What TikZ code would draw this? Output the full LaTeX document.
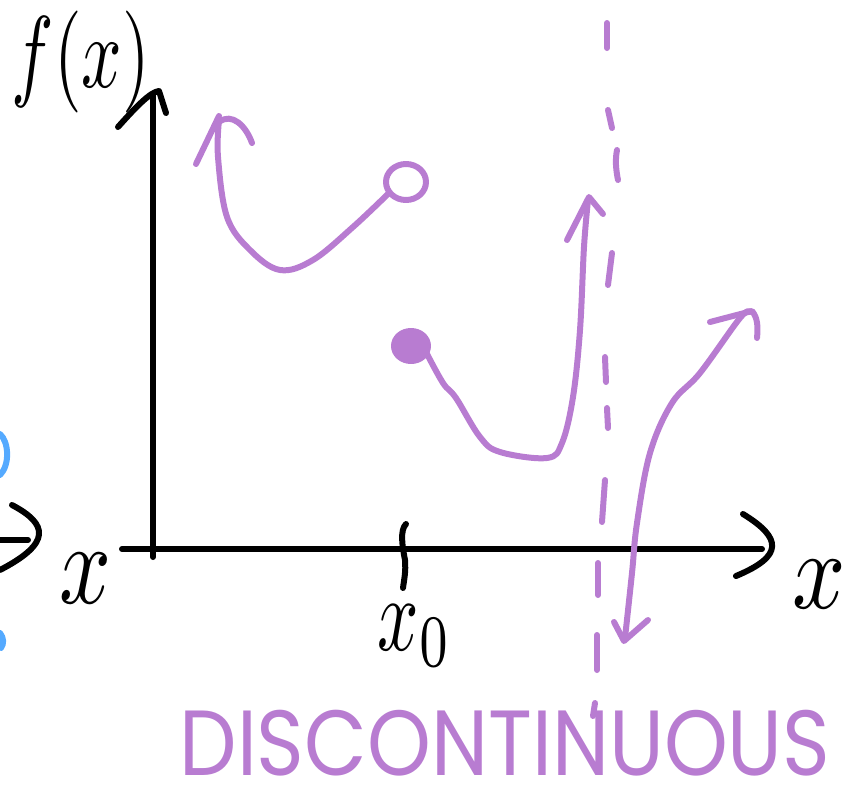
\documentclass[tikz,border=0pt]{standalone}
\usepackage{fontspec}
\newfontfamily\handfont{Poppins}
\definecolor{pen}{RGB}{184,124,209}
\definecolor{bluepen}{RGB}{85,170,255}
\tikzset{
  ink/.style={line width=4.5pt, line cap=round, line join=round},
  blackink/.style={ink, black},
  purpleink/.style={ink, pen},
  blueink/.style={ink, bluepen},
  label/.style={inner sep=0pt, outer sep=0pt},
}
\begin{document}
\begin{tikzpicture}[x=0.75pt,y=-0.75pt]
\useasboundingbox (0,0) rectangle (851,786);

% ---- axes ----
\draw[blackink] (153,557) -- (153,94);
\draw[blackink] (118,127) .. controls (135,108) and (150,92) .. (159,91) -- (166,113);
\draw[blackink] (122,549) -- (762,549);
\draw[blackink] (743,514) .. controls (782,538) and (784,556) .. (736,576);

% left partial axis
\draw[blackink] (0,540) -- (28,540);
\draw[blackink] (12,505) .. controls (48,524) and (52,543) .. (0,570);

% blue partial strokes
\draw[blueink] (0,434) .. controls (9,442) and (10,465) .. (0,475);
\draw[blueink] (0,633) .. controls (4,638) and (4,644) .. (1,648);

% x0 tick
\draw[blackink] (406,524) .. controls (400,530) and (402,545) .. (405,560) .. controls (406,572) and (404,580) .. (403,588);

% ---- labels ----
\node[label] (fx) at (81,62) {\resizebox*{103.5pt}{76.5pt}{$f(x)$}};
\node[label] (xleft) at (86,578) {\resizebox*{39pt}{37.5pt}{$x$}};
\node[label] (xright) at (819,584) {\resizebox*{40pt}{36pt}{$x$}};
\node[label] (xzero) at (415,636) {\resizebox*{55.5pt}{46pt}{$x_0$}};
\node[label, text=pen] (disc) at (505,743) {\resizebox{488pt}{49pt}{\handfont DISCONTINUOUS}};

% ---- curve 1 ----
\draw[purpleink] plot[smooth, tension=0.6] coordinates {(219,120) (218,157) (227,217) (250,250) (280,270) (313,260) (353,227) (389,193)};
\draw[purpleink] (196,164) -- (219,116);
\draw[purpleink] (219,122) .. controls (232,112) and (246,126) .. (252,143);
\draw[purpleink] (406,182) ellipse [x radius=20, y radius=18];

% ---- curve 2 ----
\fill[pen] (411,346) ellipse [x radius=19, y radius=16];
\draw[purpleink] (411,346) ellipse [x radius=17, y radius=15];
\draw[purpleink] plot[smooth, tension=0.6] coordinates {(426,352) (443,383) (456,398) (480,437) (500,452) (547,458) (562,443) (573,397) (580,330) (584,247) (588,200)};
\draw[purpleink] (567,240) -- (589,197) -- (603,214);

% ---- curve 3 ----
\draw[purpleink] plot[smooth, tension=0.6] coordinates {(750,312) (740,318) (700,373) (672,403) (650,453) (637,523) (632,573) (625,638)};
\draw[purpleink] (710,322) -- (752,311) .. controls (758,318) and (758,328) .. (757,338);
\draw[purpleink] (614,622) -- (624,641) -- (648,620);

% ---- dashed asymptote ----
\draw[purpleink] (607,23) -- (607,48);
\draw[purpleink] (608,110) -- (612,128);
\draw[purpleink] (617,150) .. controls (615,160) and (616,170) .. (618,180);
\draw[purpleink] (612,253) -- (608,285);
\draw[purpleink] (605,357) -- (606,382);
\draw[purpleink] (607,408) -- (608,428);
\draw[purpleink] (605,480) -- (602,522);
\draw[purpleink] (598,563) -- (598,595);
\draw[purpleink] (597,635) -- (597,670);
\draw[purpleink] (595,703) -- (593,716);
\end{tikzpicture}
\end{document}
